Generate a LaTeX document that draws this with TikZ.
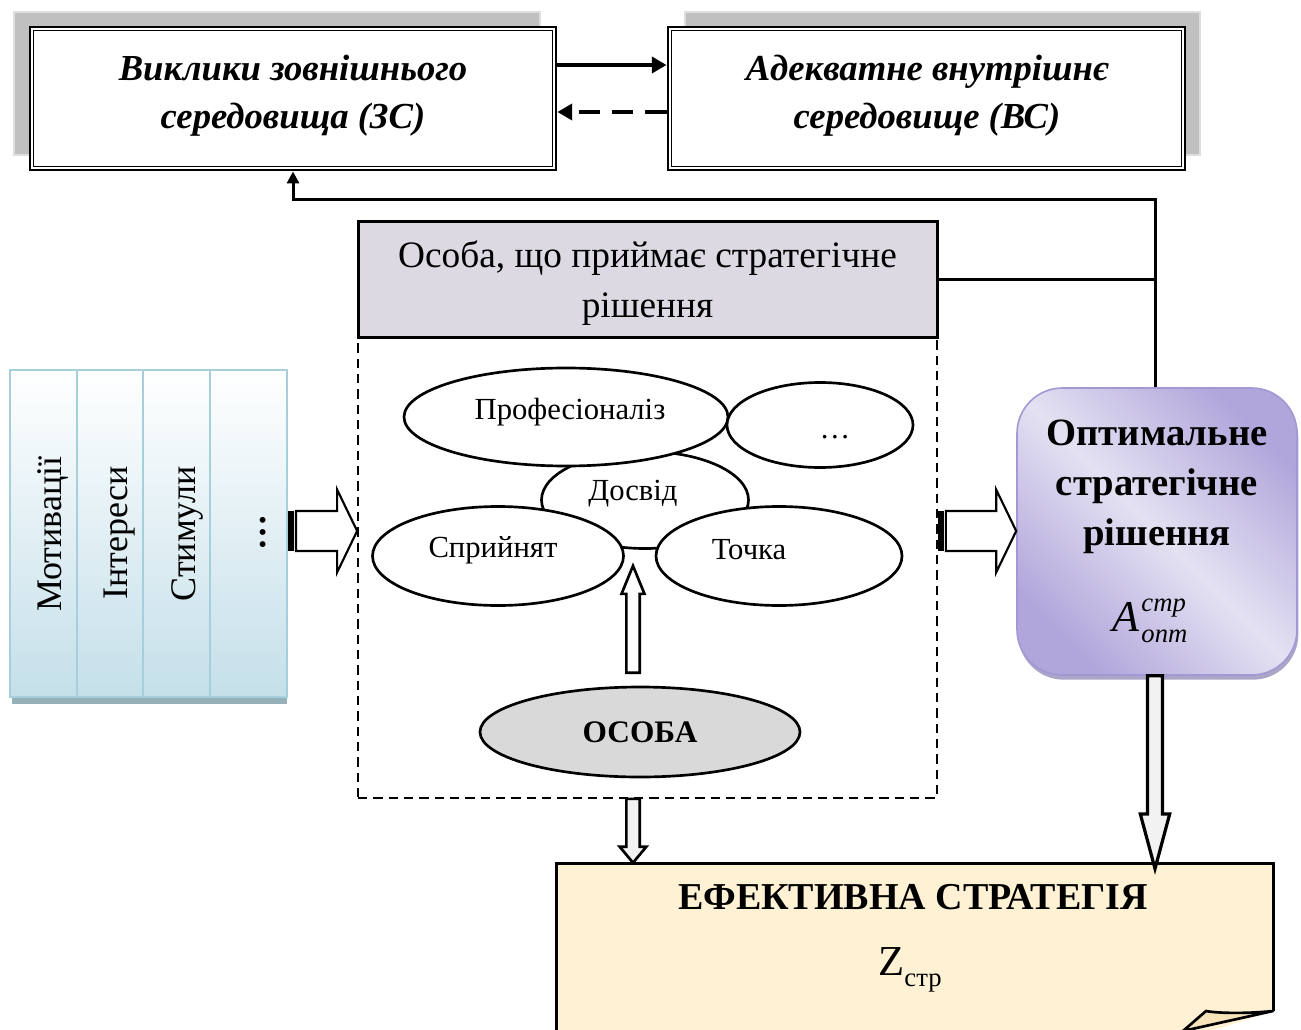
\documentclass[tikz,border=0pt]{standalone}
\usepackage{fontspec}
\setmainfont{Liberation Serif}
\usetikzlibrary{arrows.meta,shapes.geometric,calc,shadows}

\definecolor{shadowgray}{RGB}{192,192,192}
\definecolor{shadowedge}{RGB}{222,222,222}
\definecolor{hdrfill}{RGB}{220,217,227}
\definecolor{osobafill}{RGB}{217,217,217}
\definecolor{arrowgray}{RGB}{242,242,242}
\definecolor{efffill}{RGB}{255,242,212}
\definecolor{foldfill}{RGB}{245,228,186}
\definecolor{panelblue}{RGB}{196,223,233}
\definecolor{panelline}{RGB}{166,207,220}
\definecolor{panelshadow}{RGB}{150,176,186}
\definecolor{optlight}{RGB}{228,225,242}
\definecolor{optdark}{RGB}{177,166,219}
\definecolor{optline}{RGB}{163,152,211}
\definecolor{optshadow}{RGB}{150,143,185}

% hollow vertical block arrow: [style]{from}{to}{half shaft}{half head}{head length}
\newcommand\vblock[6][]{%
  \draw[blockarrow,#1] let \p1=(#2), \p2=(#3), \n1={sign(\y2-\y1)} in
    ({\x1-#4},{\y1}) -- ({\x1-#4},{\y2-\n1*#6}) -- ({\x1-#5},{\y2-\n1*#6}) -- ({\x1},{\y2})
    -- ({\x1+#5},{\y2-\n1*#6}) -- ({\x1+#4},{\y2-\n1*#6}) -- ({\x1+#4},{\y1}) -- cycle;}

% striped hollow arrow pointing right: {tail}{tip}
\newcommand\stripearrow[2]{%
  \fill let \p1=(#1) in ({\x1},{\y1-15pt}) rectangle ({\x1+4.5pt},{\y1+15pt});
  \draw[line width=1.6pt, fill=white, line join=miter] let \p1=(#1), \p2=(#2) in
    ({\x1+6pt},{\y1-15pt}) -- ({\x2-15pt},{\y1-15pt}) -- ({\x2-15pt},{\y1-31pt}) -- ({\x2},{\y1})
    -- ({\x2-15pt},{\y1+31pt}) -- ({\x2-15pt},{\y1+15pt}) -- ({\x1+6pt},{\y1+15pt}) -- cycle;}

\begin{document}
\begin{tikzpicture}[x=0.75pt,y=-0.75pt,
  envbox/.style={draw, line width=2.2pt, fill=white, inner sep=0pt, minimum height=107.25pt},
  envtext/.style={font=\fontsize{27.5}{36}\selectfont\bfseries\itshape, align=center},
  oval/.style={draw, ellipse, line width=2pt, fill=white, inner sep=0pt},
  ovaltext/.style={font=\fontsize{23}{28}\selectfont, inner sep=0pt},
  col/.style={draw=panelline, line width=1.4pt, top color=white, bottom color=panelblue,
    minimum height=245.25pt, inner sep=0pt},
  coltext/.style={rotate=90, font=\fontsize{27}{30}\selectfont, inner sep=0pt},
  blockarrow/.style={line width=2pt, fill=white, line join=miter},
  link/.style={line width=2.25pt}
]
\useasboundingbox (0,0) rectangle (1301,1030);
\clip (0,0) rectangle (1301,1030);

% helper rows and columns
\coordinate (row1) at (0,65);
\coordinate (row2) at (0,112);
\coordinate (fbrow) at (0,200);
\coordinate (fbcol) at (1155,0);
\coordinate (axis) at (633,0);
\coordinate (arow) at (0,531);

% environment boxes with their grey shadows
\draw[draw=shadowedge, line width=1pt, fill=shadowgray] (14,12) rectangle (540,155);
\draw[draw=shadowedge, line width=1pt, fill=shadowgray] (685,12) rectangle (1200,155);
\node (zs) [envbox, minimum width=394.5pt] at (293,98.5) {};
\draw[line width=1pt] ([shift={(3.5pt,-3.5pt)}]zs.north west) rectangle ([shift={(-3.5pt,3.5pt)}]zs.south east);
\node (vs) [envbox, minimum width=387.75pt] at (926.5,98.5) {};
\draw[line width=1pt] ([shift={(3.5pt,-3.5pt)}]vs.north west) rectangle ([shift={(-3.5pt,3.5pt)}]vs.south east);
\node (zstext) [envtext] at (293,96) {Виклики зовнішнього\\середовища (ЗС)};
\node (vstext) [envtext] at (927,96) {Адекватне внутрішнє\\середовище (ВС)};

\draw[line width=3pt, -{Triangle[length=11pt,width=12pt]}] (zs.east |- row1) -- (vs.west |- row1);
\draw[line width=3pt, dash pattern=on 16pt off 9pt, -{Triangle[length=11pt,width=12pt]}]
  (vs.west |- row2) -- (zs.east |- row2);

% decision maker frame
\node (frame) [draw, dash pattern=on 7pt off 4.5pt, line width=1.3pt, minimum width=434.25pt, minimum height=345.75pt, inner sep=0pt] at (647.5,567.5) {};
\node (hdr) [draw, line width=2.25pt, fill=hdrfill, minimum width=434.25pt, minimum height=86.25pt,
  inner sep=0pt, align=center, font=\fontsize{28}{37.5}\selectfont] at (647.5,279.5) {};
\node (hdrtext) [align=center, font=\fontsize{28}{37.5}\selectfont] at (647.5,283)
  {Особа, що приймає стратегічне\\рішення};

% qualities of the person
\node (dosvid) [oval, minimum width=155.25pt, minimum height=72.75pt] at (645,500) {};
\node (prof) [oval, minimum width=243pt, minimum height=73.5pt] at (566,417) {};
\node (more) [oval, minimum width=139.5pt, minimum height=63.75pt] at (820,425) {};
\node (sprn) [oval, minimum width=188.25pt, minimum height=74.25pt] at (498,556) {};
\node (tochka) [oval, minimum width=184.5pt, minimum height=74.25pt] at (779,556) {};
\node (proftext) [ovaltext] at (570,412) {Професіоналіз};
\node (moretext) [ovaltext] at (835,437) {…};
\node (dosvidtext) [ovaltext] at (633,494) {Досвід};
\node (sprntext) [ovaltext] at (493,550) {Сприйнят};
\node (tochkatext) [ovaltext] at (749,550) {Точка};

\node (osoba) [oval, fill=osobafill, minimum width=240pt, minimum height=67.5pt,
  font=\fontsize{23.5}{28}\selectfont\bfseries] at (640,732) {ОСОБА};

\coordinate (uptail) at ($(osoba.north -| axis)+(0,-13)$);
\coordinate (uptip) at ($(dosvid.south -| axis)+(0,16)$);
\vblock{uptail}{uptip}{5pt}{8.6pt}{21pt}

% motives panel
\fill[panelshadow] (12,697) rectangle (287,704);
\node (motiv) [col, minimum width=50.25pt] at (43.5,533.5) {};
\node (inter) [col, minimum width=49.5pt] at (110,533.5) {};
\node (stim) [col, minimum width=50.25pt] at (176.5,533.5) {};
\node (etc) [col, minimum width=57.75pt] at (248.5,533.5) {};
\node (motivtext) [coltext] at (53,534) {Мотивації};
\node (intertext) [coltext] at (120,533) {Інтереси};
\node (stimtext) [coltext] at (187,534) {Стимули};
\node (etctext) [coltext, font=\fontsize{27}{30}\selectfont\bfseries] at (263,532) {…};

% optimal decision
\node (opt) [rounded corners=34pt, draw=optline, line width=1.2pt,
  top color=optdark, bottom color=optdark, middle color=optlight, shading angle=-45,
  drop shadow={shadow xshift=1pt, shadow yshift=-3.5pt, fill=optshadow, opacity=0.8},
  minimum width=210pt, minimum height=215.25pt, inner sep=0pt] at (1157,531.5) {};
\node (opttext) [align=center, font=\fontsize{29}{37.5}\selectfont\bfseries] at (1157,487)
  {Оптимальне\\стратегічне\\рішення};
% A with its upper and lower indices set by hand
\node (aopt) [font=\fontsize{33}{36}\selectfont\itshape, inner sep=0pt] at (1150,621)
  {A\kern1.5pt\rlap{\raisebox{15pt}{\fontsize{20}{20}\selectfont стр}}\raisebox{-8pt}{\fontsize{20}{20}\selectfont опт}};

% effective strategy sheet
\node (eff) [minimum width=537.75pt, minimum height=150pt, inner sep=0pt] at (914.5,963) {};
\fill[efffill] (556,1040) -- (556,863) -- (1273,863) -- (1273,1011) -- (1183,1040) -- cycle;
\draw[line width=2.25pt, line join=miter] (556,1040) -- (556,863) -- (1273,863) -- (1273,1011);
\draw[line width=2pt, fill=foldfill, line join=round] (1273,1011) .. controls (1245,1014) and (1215,1013) .. (1206,1011) -- (1183,1031) -- cycle;
\node (efftext) [font=\fontsize{28.5}{30}\selectfont\bfseries] at (913,897) {ЕФЕКТИВНА СТРАТЕГІЯ};
\node (zstr) [font=\fontsize{32}{36}\selectfont] at (910,970) {Z\raisebox{-8pt}{\fontsize{20}{20}\selectfont стр}};

% connectors
\coordinate (ltail) at (etc.east |- arow);
\coordinate (lhead) at (frame.west |- arow);
\coordinate (rtail) at (frame.east |- arow);
\coordinate (rhead) at (opt.west |- arow);
\stripearrow{ltail}{lhead}
\stripearrow{rtail}{rhead}
\coordinate (dtail) at (frame.south -| axis);
\coordinate (dhead) at (eff.north -| axis);
\vblock[fill=arrowgray]{dtail}{dhead}{5pt}{10pt}{12pt}
\coordinate (otail) at (opt.south -| fbcol);
\coordinate (ohead) at ($(eff.north -| fbcol)+(0,6)$);
\vblock[fill=arrowgray, line width=2.4pt]{otail}{ohead}{5.6pt}{11pt}{41pt}

\draw[link, -{Triangle[length=9pt,width=9pt]}] (opt.north -| fbcol) -- (fbcol |- fbrow) -| (zs.south);
\draw[link] (hdr.east) -- (hdr.east -| fbcol);
\end{tikzpicture}
\end{document}
